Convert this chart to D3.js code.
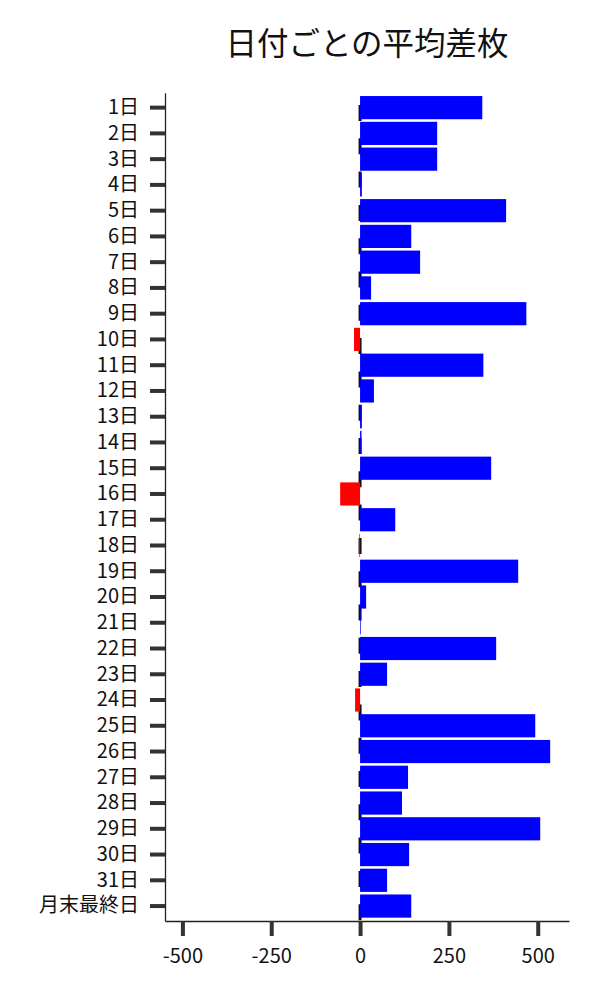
<!DOCTYPE html>
<html>
<head>
<meta charset="utf-8">
<script src="https://cdn.jsdelivr.net/npm/d3@7"></script>
<style>
  body { margin: 0; background: #fff; }
  text { font-family: "Noto Sans CJK JP", "Noto Sans", sans-serif; }
</style>
</head>
<body>
<script>
// chart data
var days = ["1日", "2日", "3日", "4日", "5日", "6日", "7日", "8日", "9日", "10日",
  "11日", "12日", "13日", "14日", "15日", "16日", "17日", "18日", "19日", "20日",
  "21日", "22日", "23日", "24日", "25日", "26日", "27日", "28日", "29日", "30日",
  "31日", "月末最終日"];
var avgDiff = [344, 217, 217, 5, 411, 144, 169, 31, 468, -17,
  347, 39, 5, 4, 369, -56, 99, -2, 445, 17,
  2, 383, 76, -14, 493, 535, 135, 118, 507, 138,
  76, 144];
var xTicks = [-500, -250, 0, 250, 500];
var title = "日付ごとの平均差枚";

var svgWidth = 600;
var svgHeight = 1000;

// plot area
var plot = { left: 165, right: 569, top: 92.7, bottom: 921 };

var svg = d3.select("body")
  .append("svg")
  .attr("width", svgWidth)
  .attr("height", svgHeight);

var data = days.map(function(d, i) { return { day: d, value: avgDiff[i] }; });

var xScale = d3.scaleLinear()
  .domain([-549, 588])
  .range([plot.left, plot.right]);

var yScale = d3.scaleBand()
  .domain(days)
  .range([plot.top, plot.bottom])
  .paddingInner(0.1)
  .paddingOuter(0.13);

// dashed zero line, drawn under the bars
svg.append("line")
  .attr("x1", xScale(0))
  .attr("x2", xScale(0))
  .attr("y1", 105)
  .attr("y2", plot.bottom)
  .attr("stroke", "#111")
  .attr("stroke-width", 3)
  .attr("stroke-dasharray", "16,17.3");

svg.selectAll(".bar")
  .data(data)
  .enter()
  .append("rect")
  .attr("class", "bar")
  .attr("x", d => xScale(Math.min(0, d.value)))
  .attr("y", d => yScale(d.day))
  .attr("width", d => Math.abs(xScale(d.value) - xScale(0)))
  .attr("height", yScale.bandwidth())
  .attr("fill", d => d.value < 0 ? "#ff0000" : "#0000ff");

// axes
var leftAxis = d3.axisLeft(yScale).tickSize(15).tickPadding(11).tickSizeOuter(0);
var bottomAxis = d3.axisBottom(xScale)
  .tickValues(xTicks)
  .tickFormat(d => String(d))
  .tickSize(15)
  .tickPadding(13)
  .tickSizeOuter(0);

var yAxis = svg.append("g")
  .attr("transform", `translate(${plot.left}, 0)`)
  .call(leftAxis);

var xAxis = svg.append("g")
  .attr("transform", `translate(0, ${plot.bottom})`)
  .call(bottomAxis);

[yAxis, xAxis].forEach(function(g) {
  g.attr("font-size", null).attr("font-family", null);
  g.select(".domain").attr("stroke", "#222").attr("stroke-width", 1.3);
  g.selectAll(".tick line").attr("stroke", "#333").attr("stroke-width", 4);
  g.selectAll(".tick text")
    .attr("fill", "#111")
    .style("font-size", "20px")
    .style("font-family", '"Noto Sans CJK JP", sans-serif');
});

svg.append("text")
  .attr("x", (plot.left + plot.right) / 2)
  .attr("y", 55)
  .attr("text-anchor", "middle")
  .style("font-size", "31.5px")
  .attr("fill", "#111")
  .text(title);
</script>
</body>
</html>
